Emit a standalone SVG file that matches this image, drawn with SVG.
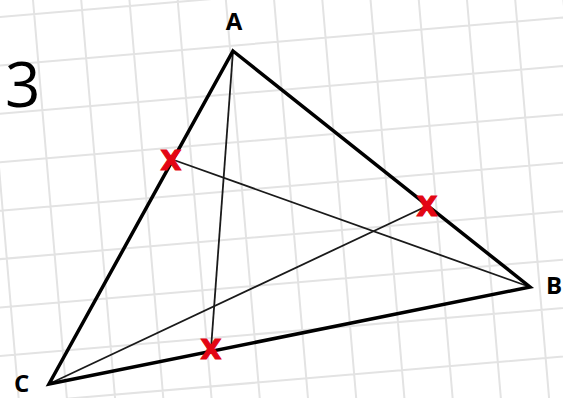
<svg xmlns="http://www.w3.org/2000/svg" width="563" height="398" viewBox="0 0 563 398">
<style>
.grid{stroke:#e3e3e3;stroke-width:2;fill:none}
.tri{stroke:#000;stroke-width:3.5;fill:none;stroke-linejoin:miter}
.cev{stroke:#1a1a1a;stroke-width:1.8}
.lbl{font-family:"Open Sans","DejaVu Sans",sans-serif;font-weight:700;font-size:24px;fill:#000}
.mark{font-family:"DejaVu Sans","Liberation Sans",sans-serif;font-weight:700;font-size:27px;fill:#e30613;stroke:#e30613;stroke-width:1.2;text-anchor:middle}
</style>
<rect width="563" height="398" fill="#fff"/>
<g id="grid" transform="rotate(-4.86)">
<path class="grid" d="M-100,-79.56H700M-100,-31.31H700M-100,16.94H700M-100,65.19H700M-100,113.44H700M-100,161.69H700M-100,209.94H700M-100,258.19H700M-100,306.44H700M-100,354.69H700M-100,402.94H700M-100,451.19H700M-100,499.44H700
M-63.22,-100V500M-15.17,-100V500M32.88,-100V500M80.93,-100V500M128.98,-100V500M177.03,-100V500M225.08,-100V500M273.13,-100V500M321.18,-100V500M369.23,-100V500M417.28,-100V500M465.33,-100V500M513.38,-100V500M561.43,-100V500M609.48,-100V500"/>
</g>
<text x="5" y="107" font-family="'Open Sans','DejaVu Sans',sans-serif" font-size="62" fill="#000">3</text>
<g id="connectors">
<line class="cev" x1="233" y1="51" x2="211" y2="349"/>
<line class="cev" x1="530" y1="287" x2="171" y2="159"/>
<line class="cev" x1="49" y1="384" x2="427" y2="206"/>
</g>
<g id="triangle">
<polygon class="tri" points="233,51 530,287 49,384"/>
</g>
<g id="A"><text class="lbl" x="234" y="30" text-anchor="middle">A</text></g>
<g id="B"><text class="lbl" x="546" y="294">B</text></g>
<g id="C"><text class="lbl" x="14" y="392">C</text></g>
<g id="markAC"><text class="mark" x="171" y="170">X</text></g>
<g id="markAB"><text class="mark" x="427" y="216">X</text></g>
<g id="markBC"><text class="mark" x="211" y="359">X</text></g>
</svg>
